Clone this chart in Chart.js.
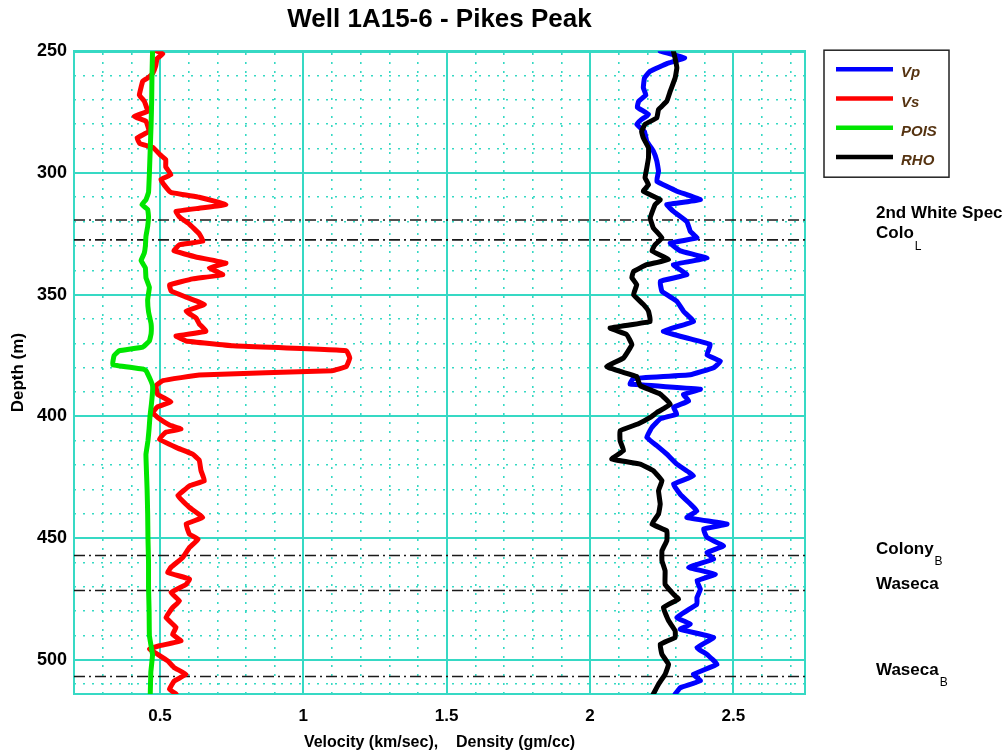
<!DOCTYPE html>
<html>
<head>
<meta charset="utf-8">
<script src="https://cdn.jsdelivr.net/npm/chart.js@4.4.1/dist/chart.umd.min.js"></script>
<style>
html,body{margin:0;padding:0;background:#fff;}
canvas{display:block;}
</style>
</head>
<body>
<canvas id="c" width="1008" height="756"></canvas>
<script>
// ---------------- DATA ----------------
const titleText = 'Well 1A15-6 - Pikes Peak';
const xTitle = 'Velocity (km/sec),    Density (gm/cc)';
const yTitle = 'Depth (m)';

const xTickValues = [0.5, 1, 1.5, 2, 2.5];
const xTickLabels = ['0.5', '1', '1.5', '2', '2.5'];
const xMinorValues = [0.3,0.4,0.6,0.7,0.8,0.9,1.1,1.2,1.3,1.4,1.6,1.7,1.8,1.9,2.1,2.2,2.3,2.4,2.6,2.7];
const yTickValues = [250, 300, 350, 400, 450, 500];
const yTickLabels = ['250', '300', '350', '400', '450', '500'];
const yMinorValues = [260,270,280,290,310,320,330,340,360,370,380,390,410,420,430,440,460,470,480,490,510];

const legendOrder = ['Vp', 'Vs', 'POIS', 'RHO'];

// Vs (red)
const vsDepth = [250,251,253,256,259,261,262.3,268,270.5,274.7,276.7,278.8,282.9,285.6,288,289.5,292.5,294.5,297.5,300.7,302.7,305,308,310,313,314.5,315.8,318,321,325,328,329.5,332,334.5,337,339,341.8,343.5,346,348.5,351,354,356.8,359.6,362,365,367,369,371,373,376,379.5,381.2,383,385.3,387.4,391,394,396,398.4,400.4,403.5,405.2,406.5,409.3,412.7,415.5,418,422.3,426.4,428.5,432.6,434.7,437.4,441.5,444.2,448.4,450.4,453.8,458,462,464.1,466.8,469,472.3,475.8,478.5,482.6,486.7,489.5,492.2,494.2,495.6,497.7,500.4,503.2,505.9,508.6,512,514];
const vsValues = [0.49,0.51,0.49,0.485,0.475,0.457,0.44,0.428,0.445,0.457,0.41,0.451,0.462,0.42,0.43,0.475,0.5,0.52,0.52,0.538,0.503,0.515,0.538,0.637,0.73,0.637,0.556,0.567,0.602,0.637,0.65,0.567,0.549,0.625,0.73,0.672,0.719,0.614,0.533,0.539,0.591,0.655,0.591,0.626,0.637,0.66,0.556,0.591,0.754,1.15,1.162,1.15,1.1,0.637,0.51,0.486,0.492,0.538,0.492,0.474,0.492,0.533,0.573,0.52,0.498,0.556,0.614,0.637,0.643,0.655,0.603,0.562,0.579,0.603,0.649,0.591,0.603,0.633,0.603,0.579,0.538,0.527,0.603,0.591,0.538,0.568,0.544,0.521,0.556,0.544,0.573,0.498,0.463,0.492,0.527,0.55,0.591,0.55,0.533,0.556];

// POIS (green)
const poisDepth = [250,260,270,280,290,300,308,311,313,315,318,322,326,330,333,336,339,343,347,352,357,362,366,369,371.5,373,375,378.8,380.5,381.2,382,385.6,387.4,390,395,400,405,410,415.5,420,430,440,450,460,470,480,490,495,498,505,514];
const poisValues = [0.474,0.472,0.471,0.469,0.466,0.463,0.46,0.451,0.437,0.457,0.46,0.457,0.451,0.449,0.445,0.434,0.449,0.451,0.463,0.457,0.46,0.469,0.469,0.463,0.44,0.358,0.34,0.335,0.44,0.451,0.455,0.469,0.474,0.474,0.47,0.465,0.462,0.458,0.451,0.452,0.455,0.457,0.458,0.46,0.46,0.462,0.463,0.47,0.474,0.468,0.466];

// Vp (blue)
const vpDepth = [250,252.7,255,258.2,261,265,268,270.5,273,276,278,280,283,287,291,295,299.3,303.4,307.5,311,313,315.8,320,324,326.7,328.8,332,335,337.7,341.8,344.5,348.6,352.7,356.8,361,365,367.8,370.5,374.7,377.4,380,382.9,384.5,386.7,388.8,391,393.6,396.3,399,401,404.5,408.6,412,415.5,419.6,424.4,427.8,432,436,438.8,441.5,444.2,446.3,449.7,453.2,455.9,458.6,462,464.8,467.5,471,474.4,477.1,482.6,485.3,487.4,490.8,495,497.7,501.8,505.9,508.6,511.4,514];
const vpValues = [2.245,2.33,2.27,2.21,2.19,2.186,2.195,2.17,2.165,2.204,2.18,2.163,2.19,2.198,2.221,2.233,2.239,2.233,2.303,2.385,2.268,2.291,2.338,2.35,2.373,2.28,2.315,2.408,2.291,2.338,2.245,2.251,2.303,2.326,2.361,2.256,2.338,2.42,2.408,2.455,2.431,2.35,2.15,2.14,2.385,2.326,2.344,2.291,2.303,2.245,2.216,2.198,2.233,2.268,2.303,2.361,2.291,2.315,2.35,2.373,2.338,2.478,2.396,2.408,2.466,2.408,2.431,2.344,2.437,2.373,2.385,2.373,2.373,2.303,2.35,2.315,2.431,2.373,2.408,2.443,2.361,2.385,2.315,2.297];

// RHO (black)
const rhoDepth = [250,253,256.8,261,266.4,270.5,274,277.4,280,283,285.6,289.7,293.8,298,302,304.8,307.5,311,313,318.5,322.6,326.7,329.5,332,335.6,337.7,340.4,343,345.9,350,354,356.8,361,363.7,366.4,370.5,376,379.5,381.5,383.6,385.6,387.4,390.8,395,398.4,400.4,403,405.9,410,414,417.5,419.6,422.3,426.4,430.5,436,440.1,444.2,447,451,455.2,459.3,463.4,469,473,475,478.5,483.9,488,490.8,493.6,497.7,501.8,505.9,510,514];
const rhoValues = [2.291,2.297,2.303,2.297,2.28,2.268,2.239,2.233,2.192,2.18,2.186,2.204,2.204,2.198,2.192,2.204,2.186,2.245,2.227,2.21,2.221,2.251,2.227,2.216,2.274,2.198,2.152,2.146,2.163,2.152,2.186,2.204,2.21,2.07,2.128,2.146,2.117,2.058,2.105,2.163,2.169,2.175,2.245,2.28,2.233,2.21,2.169,2.105,2.105,2.117,2.076,2.175,2.221,2.251,2.239,2.245,2.239,2.216,2.268,2.268,2.251,2.251,2.262,2.262,2.291,2.309,2.256,2.274,2.297,2.297,2.245,2.251,2.274,2.262,2.239,2.221];

// Formation tops
const formationDepths = [319.3, 327.5, 457.1, 471.5, 506.8];
const formationNames = ['2nd White Spec', 'Colo', 'Colony', 'Waseca', 'Waseca'];
const formationSubs = ['', 'L', 'B', '', 'B'];

// ---------------- STYLE / BUILD ----------------
const FONT = '"Liberation Sans", Arial, Helvetica, sans-serif';
Chart.defaults.font.family = FONT;
const turq = '#36d9c4';
const xMin = 0.2, xMax = 2.75, yMin = 250, yMax = 514;

function pts(depths, vals) { return depths.map((d, i) => ({ x: vals[i], y: d })); }
const setTicks = (vals) => (axis) => { axis.ticks = vals.map(v => ({ value: v })); };

function curve(label, color, depths, vals) {
  return { label, data: pts(depths, vals), showLine: true, borderColor: color, backgroundColor: color,
    borderWidth: 5, pointRadius: 0, pointHoverRadius: 0, fill: false, tension: 0.08,
    borderJoinStyle: 'round', borderCapStyle: 'round' };
}

const formationSets = formationDepths.map((d, i) => ({
  label: 'top-' + i,
  data: [{ x: xMin, y: d }, { x: xMax, y: d }],
  showLine: true, borderColor: '#1a1a1a', borderWidth: 1.6, borderDash: [11, 4, 2, 4],
  pointRadius: 0, fill: false, tension: 0
}));

const wellAnnot = {
  id: 'wellAnnot',
  afterDraw(chart) {
    const { ctx, chartArea } = chart;
    const ys = chart.scales.y;
    ctx.save();
    // legend box
    const bx = chartArea.right + 19, by = chartArea.top - 1, bw = 125, bh = 127;
    ctx.fillStyle = '#fff';
    ctx.fillRect(bx, by, bw, bh);
    ctx.strokeStyle = '#222';
    ctx.lineWidth = 1.5;
    ctx.strokeRect(bx, by, bw, bh);
    legendOrder.forEach((name, i) => {
      const ds = chart.data.datasets.find(d => d.label === name);
      const ly = by + 19 + i * 29.3;
      ctx.strokeStyle = ds.borderColor;
      ctx.lineWidth = 4.5;
      ctx.beginPath();
      ctx.moveTo(bx + 12, ly);
      ctx.lineTo(bx + 69, ly);
      ctx.stroke();
      ctx.fillStyle = '#553311';
      ctx.font = 'italic bold 15px ' + FONT;
      ctx.textBaseline = 'middle';
      ctx.textAlign = 'left';
      ctx.fillText(name, bx + 77, ly + 4);
    });
    // formation labels
    const lx = chartArea.right + 71;
    formationDepths.forEach((d, i) => {
      const y = ys.getPixelForValue(d) - 6.5;
      ctx.fillStyle = '#000';
      ctx.font = 'bold 17px ' + FONT;
      ctx.textBaseline = 'middle';
      ctx.textAlign = 'left';
      ctx.fillText(formationNames[i], lx, y);
      if (formationSubs[i]) {
        const w = ctx.measureText(formationNames[i]).width;
        ctx.font = '12px ' + FONT;
        ctx.fillText(formationSubs[i], lx + w + 1, y + 13);
      }
    });
    ctx.restore();
  }
};

new Chart(document.getElementById('c'), {
  type: 'scatter',
  data: {
    datasets: [
      curve('RHO', '#000000', rhoDepth, rhoValues),
      curve('POIS', '#00e600', poisDepth, poisValues),
      curve('Vs', '#ff0000', vsDepth, vsValues),
      curve('Vp', '#0000ff', vpDepth, vpValues),
      ...formationSets
    ]
  },
  options: {
    responsive: false,
    animation: false,
    devicePixelRatio: 1,
    events: [],
    layout: { padding: { left: 0, right: 203, top: 0, bottom: 0 } },
    plugins: {
      legend: { display: false },
      tooltip: { enabled: false },
      title: {
        display: true, text: titleText, fullSize: false, color: '#000',
        font: { size: 26, weight: 'bold' }, padding: { top: 4, bottom: 16 }
      }
    },
    scales: {
      x: {
        type: 'linear', position: 'bottom', min: xMin, max: xMax,
        afterBuildTicks: setTicks(xTickValues),
        afterFit: s => { s.height = 62; },
        ticks: { color: '#000', font: { size: 17, weight: 'bold' }, padding: 12, maxRotation: 0,
          callback: (v, i) => xTickLabels[i] },
        grid: { color: turq, lineWidth: 2, drawTicks: false },
        border: { color: turq, width: 2 },
        title: { display: true, text: xTitle, color: '#000', font: { size: 16, weight: 'bold' }, padding: { top: 0, bottom: 4 } }
      },
      xMinor: {
        type: 'linear', position: 'top', min: xMin, max: xMax,
        afterBuildTicks: setTicks(xMinorValues),
        afterFit: s => { s.height = 0; },
        ticks: { display: false },
        grid: { color: turq, lineWidth: 1.6, drawTicks: false },
        border: { color: turq, width: 3, dash: [2, 7] }
      },
      y: {
        type: 'linear', position: 'left', reverse: true, min: yMin, max: yMax,
        afterBuildTicks: setTicks(yTickValues),
        afterFit: s => { s.width = 74; },
        ticks: { color: '#000', font: { size: 18, weight: 'bold' }, padding: 7,
          callback: (v, i) => yTickLabels[i] },
        grid: { color: turq, lineWidth: 2, drawTicks: false },
        border: { color: turq, width: 2 },
        title: { display: true, text: yTitle, color: '#000', font: { size: 17, weight: 'bold' }, padding: { top: 8, bottom: 0 } }
      },
      yMinor: {
        type: 'linear', position: 'right', reverse: true, min: yMin, max: yMax,
        afterBuildTicks: setTicks(yMinorValues),
        afterFit: s => { s.width = 0; },
        ticks: { display: false },
        grid: { color: turq, lineWidth: 1.6, drawTicks: false },
        border: { color: turq, width: 2, dash: [2, 7] }
      }
    }
  },
  plugins: [wellAnnot]
});
</script>
</body>
</html>
